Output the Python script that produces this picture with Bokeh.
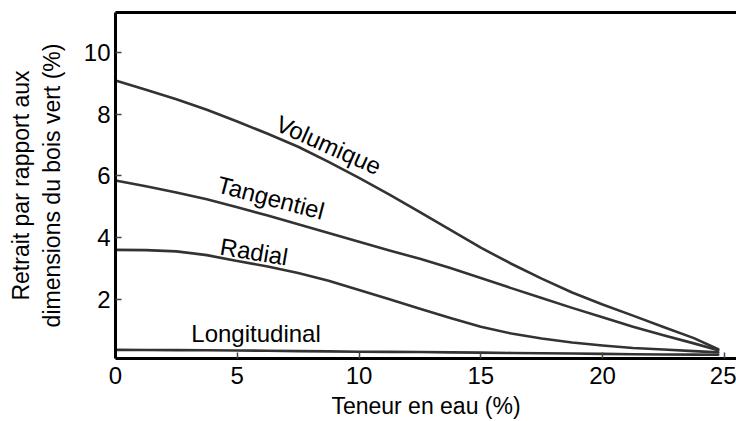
import math
from bokeh.plotting import figure
from bokeh.models import Range1d, LinearAxis, FixedTicker
from bokeh.core.properties import value
from bokeh.embed import file_html
from bokeh.resources import INLINE

# Moisture content (%) and shrinkage (%)
moisture = [0, 1.25, 2.5, 3.75, 5, 6.25, 7.5, 8.75, 10, 11.25, 12.5,
            13.75, 15, 16.25, 17.5, 18.75, 20, 21.25, 22.5, 23.75, 24.75]
volumique = [9.09, 8.79, 8.48, 8.14, 7.76, 7.36, 6.94, 6.45, 5.93, 5.39, 4.82,
             4.25, 3.67, 3.15, 2.67, 2.22, 1.83, 1.47, 1.1, 0.74, 0.38]
tangentiel = [5.85, 5.66, 5.46, 5.24, 4.98, 4.71, 4.43, 4.15, 3.86, 3.58, 3.31,
              3.01, 2.69, 2.36, 2.04, 1.72, 1.42, 1.11, 0.83, 0.57, 0.35]
radial = [3.6, 3.59, 3.55, 3.43, 3.24, 3.06, 2.85, 2.6, 2.3, 2.0, 1.69,
          1.39, 1.11, 0.89, 0.73, 0.6, 0.5, 0.42, 0.37, 0.32, 0.28]
longitudinal = [0.36, 0.355, 0.35, 0.345, 0.34, 0.33, 0.32, 0.31, 0.3, 0.295, 0.29,
                0.28, 0.27, 0.26, 0.25, 0.24, 0.23, 0.22, 0.21, 0.205, 0.2]

series_names = ["Volumique", "Tangentiel", "Radial", "Longitudinal"]
label_x = [8.75, 6.38, 5.69, 5.77]
label_y = [7.0, 5.29, 3.54, 0.88]
label_angle_deg = [-24, -14.7, -9.5, 0]

x_ticks = [0, 5, 10, 15, 20, 25]
y_ticks = [2, 4, 6, 8, 10]

FONT = "Liberation Sans"
LINE_COLOR = "#333333"

p = figure(width=736, height=421,
           x_range=Range1d(0, 25.5), y_range=Range1d(0.08, 11.29),
           output_backend="svg", toolbar_location=None,
           min_border_left=115, min_border_right=0,
           min_border_top=12, min_border_bottom=63)
p.outline_line_color = None
p.grid.visible = False
p.background_fill_color = "white"
p.border_fill_color = "white"

for ys in [volumique, tangentiel, radial, longitudinal]:
    p.line(moisture, ys, line_color=LINE_COLOR, line_width=2.6,
           line_join="round", line_cap="round")

for name, lx, ly, ang in zip(series_names, label_x, label_y, label_angle_deg):
    p.text(x=[lx], y=[ly], text=[name], angle=math.radians(ang),
           text_font=value(FONT), text_font_size="24px", text_color="black",
           text_align="center", text_baseline="middle")

for ax in [p.xaxis[0], p.yaxis[0]]:
    ax.axis_line_width = 3
    ax.axis_line_color = "black"
    ax.major_tick_in = 6
    ax.major_tick_out = 0
    ax.major_tick_line_width = 1.5
    ax.major_tick_line_color = "#444444"
    ax.minor_tick_in = 0
    ax.minor_tick_out = 0
    ax.major_label_text_font = FONT
    ax.major_label_text_font_size = "24px"
    ax.major_label_text_color = "black"
    ax.axis_label_text_font = FONT
    ax.axis_label_text_font_size = "23px"
    ax.axis_label_text_font_style = "normal"
    ax.axis_label_text_color = "black"

p.xaxis[0].ticker = FixedTicker(ticks=x_ticks)
p.yaxis[0].ticker = FixedTicker(ticks=y_ticks)
p.xaxis[0].axis_label = "Teneur en eau (%)"
p.yaxis[0].axis_label = "Retrait par rapport aux\ndimensions du bois vert (%)"
p.xaxis[0].major_label_standoff = 8
p.xaxis[0].axis_label_standoff = 6
p.yaxis[0].major_label_standoff = 5
p.yaxis[0].axis_label_standoff = 16

top = LinearAxis(ticker=FixedTicker(ticks=[]), axis_line_width=3, axis_line_color="black",
                 major_tick_in=0, major_tick_out=0, minor_tick_in=0, minor_tick_out=0,
                 major_label_text_font_size="0px")
p.add_layout(top, "above")

open("out.html", "w").write(file_html(p, INLINE))
